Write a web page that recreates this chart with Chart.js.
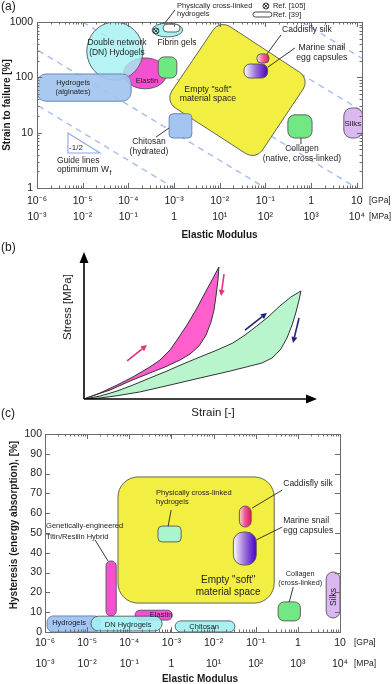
<!DOCTYPE html>
<html><head><meta charset="utf-8">
<script src="https://cdn.jsdelivr.net/npm/chart.js@4.4.1/dist/chart.umd.min.js"></script>
<style>
html,body{margin:0;padding:0;background:#fff;}
body{width:392px;height:684px;position:relative;overflow:hidden;}
.panel{position:absolute;left:0;width:392px;}
</style></head><body>
<div class="panel" style="top:0;height:242px"><canvas id="chartA"></canvas></div>
<div class="panel" style="top:242px;height:178px"><canvas id="chartB"></canvas></div>
<div class="panel" style="top:420px;height:264px"><canvas id="chartC"></canvas></div>
<script>
// ================= DATA =================
// shared modulus axis (GPa) and its tick labels
const modulusTicks = [1e-6, 1e-5, 1e-4, 1e-3, 1e-2, 1e-1, 1, 10];
const modulusLabelsGPa = ['10⁻⁶','10⁻⁵','10⁻⁴','10⁻³','10⁻²','10⁻¹','1','10'];
const modulusLabelsMPa = ['10⁻³','10⁻²','10⁻¹','1','10¹','10²','10³','10⁴'];
const strainTicks = [1, 10, 100, 1000];
const hysteresisTicks = [0, 10, 20, 30, 40, 50, 60, 70, 80, 90, 100];

// ---- panel (a): strain to failure [%] vs elastic modulus [GPa]
const materialsA = ['Elastin','DN Hydrogels','Hydrogels (alginates)','Fibrin gels','Physically cross-linked hydrogels','Ref. [39] hydrogel','Chitosan (hydrated)','Caddisfly silk','Marine snail egg capsules','Collagen (native, cross-linked)','Silks'];
const modulusMinA = [7.9e-5, 1.23e-5, 1.0e-6, 4.5e-4, 3.3e-4, 5.75e-4, 7.8e-4, 0.065, 0.034, 0.31, 5.2];
const modulusMaxA = [6.9e-4, 2.09e-4, 1.15e-4, 1.15e-3, 1.55e-3, 1.35e-3, 2.45e-3, 0.12, 0.112, 1.05, 13.5];
const strainMinA  = [62, 89, 37, 97, 537, 660, 8, 182, 97, 8, 8];
const strainMaxA  = [224, 1000, 115, 234, 955, 912, 22, 265, 174, 21, 28];
// "Empty soft material space" corner points (GPa, %)
const softSpaceModulusA = [0.0101, 0.94, 0.0617, 6.3e-4];
const softSpaceStrainA  = [1087, 93.5, 3.2, 37];
// slope -1/2 guide lines: [modulus0, strain0, modulus1, strain1]
const guideLinesA = [
  [1e-7, 100, 1e-3, 1],
  [1e-7, 1000, 0.1, 1],
  [1e-5, 1000, 10, 1],
  [7.94e-3, 1000, 100, 8.91],
  [0.631, 1000, 100, 79.4]
];
const refMarkerA = [4.0e-4, 690]; // Ref. [105] point

// ---- panel (b): schematic stress-strain loops (normalised strain, stress)
const pinkLoadStrain   = [0, 0.069, 0.142, 0.210, 0.283, 0.326, 0.369, 0.399, 0.442, 0.485, 0.519, 0.554, 0.579];
const pinkLoadStress   = [0, 0.041, 0.095, 0.150, 0.218, 0.265, 0.333, 0.401, 0.503, 0.619, 0.721, 0.823, 0.898];
const pinkUnloadStrain = [0.575, 0.567, 0.558, 0.545, 0.524, 0.494, 0.455, 0.412, 0.348, 0.283, 0.197, 0.112, 0.047, 0];
const pinkUnloadStress = [0.810, 0.707, 0.605, 0.524, 0.435, 0.361, 0.306, 0.265, 0.218, 0.177, 0.122, 0.061, 0.027, 0];
const greenLoadStrain   = [0, 0.069, 0.142, 0.210, 0.283, 0.356, 0.425, 0.498, 0.571, 0.639, 0.691, 0.742, 0.790, 0.841, 0.888, 0.931];
const greenLoadStress   = [0, 0.020, 0.054, 0.095, 0.143, 0.190, 0.238, 0.286, 0.333, 0.381, 0.435, 0.497, 0.558, 0.633, 0.694, 0.735];
const greenUnloadStrain = [0.923, 0.910, 0.893, 0.871, 0.845, 0.807, 0.764, 0.712, 0.627, 0.498, 0.369, 0.240, 0.133, 0.069, 0];
const greenUnloadStress = [0.673, 0.592, 0.503, 0.415, 0.340, 0.279, 0.245, 0.224, 0.190, 0.143, 0.095, 0.048, 0.020, 0.007, 0];
// direction arrows: [strain0, stress0, strain1, stress1]
const loopArrows = [
  [0.185, 0.259, 0.270, 0.367],
  [0.601, 0.850, 0.588, 0.701],
  [0.691, 0.469, 0.785, 0.585],
  [0.923, 0.551, 0.897, 0.381]
];

// ---- panel (c): hysteresis [%] vs elastic modulus [GPa]
const materialsC = ['Physically cross-linked hydrogels','Caddisfly silk','Marine snail egg capsules','Titin/Resilin hybrid','Hydrogels','Elastin','DN Hydrogels','Chitosan','Collagen (cross-linked)','Silks'];
const modulusMinC = [4.8e-4, 0.041, 0.0295, 2.8e-5, 1.12e-6, 1.37e-4, 1.23e-5, 1.23e-3, 0.34, 4.7];
const modulusMaxC = [1.7e-3, 0.078, 0.103, 4.9e-5, 2.04e-5, 1.05e-3, 6.0e-4, 0.032, 1.15, 10];
const hysteresisMinC = [45.5, 53, 33.8, 8.1, 0, 6, 0.5, 0, 5.6, 7.1];
const hysteresisMaxC = [53.5, 63.6, 50.5, 35.9, 8.1, 11, 8, 5.6, 15.2, 30.3];
const softSpaceC = [5.4e-5, 0.275, 14.6, 78.3]; // modulus min/max, hysteresis min/max

// ================= STYLES / ANNOTATIONS =================
const FONT = '"Liberation Sans", Arial, Helvetica, sans-serif';
Chart.defaults.font.family = FONT;
Chart.defaults.color = '#222';
const YELLOW = '#f3ef42';
const MAGENTA = '#f450d2';

const styleA = {
  'Elastin': {shape:'ellipse', fill:MAGENTA},
  'DN Hydrogels': {shape:'ellipse', fill:'rgba(164,240,242,0.8)'},
  'Hydrogels (alginates)': {shape:'rect', r:9, fill:'rgba(162,196,240,0.92)', stroke:'#5f7fae'},
  'Fibrin gels': {shape:'rect', r:6, fill:'#70e880'},
  'Physically cross-linked hydrogels': {shape:'ellipse', fill:'#a8f2f2'},
  'Ref. [39] hydrogel': {shape:'rect', r:4, fill:'#ffffff'},
  'Chitosan (hydrated)': {shape:'rect', r:4, fill:'#a4c4f2', stroke:'#5f7fae'},
  'Caddisfly silk': {shape:'rect', r:4, grad:['#f3ecc8','#f264a8','#e0204e']},
  'Marine snail egg capsules': {shape:'rect', r:6, grad:['#ffffff','#9870d8','#4800c0']},
  'Collagen (native, cross-linked)': {shape:'rect', r:7, fill:'#72e884'},
  'Silks': {shape:'rect', r:8, fill:'#dcb8f2'}
};
const styleC = {
  'Physically cross-linked hydrogels': {r:4, fill:'#aaf5cc'},
  'Caddisfly silk': {r:6, grad:['#eee0b8','#f050a0','#e01850']},
  'Marine snail egg capsules': {r:10, grad:['#ffffff','#9a70d8','#4800c8']},
  'Titin/Resilin hybrid': {r:5, fill:MAGENTA},
  'Hydrogels': {r:6, fill:'#a4c4f2', stroke:'#5f7fae'},
  'Elastin': {r:5, fill:MAGENTA},
  'DN Hydrogels': {r:8, fill:'rgba(160,240,244,0.9)'},
  'Chitosan': {r:6, fill:'#a8f0f2'},
  'Collagen (cross-linked)': {r:6, fill:'#72e884'},
  'Silks': {r:7, fill:'#dcb8f2'}
};

const labelsA = [
  {lines:[['Physically cross-linked',1945],['hydrogels',1400]], x:1.16e-3, align:'left', size:7.5},
  {lines:[['Ref. [105]',1945]], x:0.146, align:'left', size:7.5},
  {lines:[['Ref. [39]',1339]], x:0.146, align:'left', size:7.5},
  {lines:[['Double network',417],['(DN) Hydogels',275]], x:5.64e-5, size:8.5},
  {lines:[['Fibrin gels',417]], x:1.16e-3, size:8.5},
  {lines:[['Elastin',85.7]], x:2.55e-4, size:7.5},
  {lines:[['Hydrogels',78.9],['(alginates)',54.2]], x:6.14e-6, size:7.5},
  {lines:[['Empty "soft"',58.9],['material space',40.5]], x:5.52e-3, size:8.7},
  {lines:[['Caddisfly silk',716]], x:0.809, size:8.5},
  {lines:[['Marine snail',339],['egg capsules',223]], x:1.72, size:8.7},
  {lines:[['Chitosan',6.76],['(hydrated)',4.46]], x:2.82e-4, size:8.5},
  {lines:[['Collagen',5.05],['(native, cross-linked)',3.33]], x:0.63, size:8.5},
  {lines:[['Silks',14.3]], x:8.22, size:8},
  {lines:[['-1/2',5.26]], x:7.13e-6, size:8},
  {lines:[['Guide lines',3.06],['optimimum W',2.11]], x:2.74e-6, align:'left', size:8.5, sub:'f'}
];
const leadersA = [
  [1.05e-3, 1648, 6.3e-4, 959],
  [0.218, 582, 0.108, 264],
  [0.443, 339, 0.1135, 153],
  [4.02e-4, 8.32, 7.73e-4, 12.1],
  [0.60, 7.98, 0.60, 6.22]
];
const triangleA = [[4.76e-6, 9.85], [4.76e-6, 4.28], [2.39e-5, 4.28]];
const legendPillA = [0.0533, 0.1387, 1231, 1517];
const legendMarkA = [0.1026, 1945];

const labelsC = [
  {lines:[['Physically cross-linked',70.2],['hydrogels',65.7]], x:4.33e-4, align:'left', size:7.5},
  {lines:[['Caddisfly silk',74.7]], x:0.45, align:'left', size:8.5},
  {lines:[['Marine snail',56.1],['egg capsules',51.0]], x:0.45, align:'left', size:8.5},
  {lines:[['Genetically-engineered',53.5],['Titin/Resilin Hybrid',48.0]], x:1.06e-6, align:'left', size:7.5},
  {lines:[['Empty "soft"',26.3],['material space',20.2]], x:0.0222, size:10},
  {lines:[['Collagen',29.3],['(cross-linked)',24.7]], x:1.14, size:7.3},
  {lines:[['Silks',17.7]], x:6.93, size:8.5, rot:-Math.PI/2},
  {lines:[['Hydrogels',4.55]], x:3.72e-6, size:7.5},
  {lines:[['DN Hydrogels',3.5]], x:9.38e-5, size:7.5},
  {lines:[['Elastin',8.6]], x:5.69e-4, size:7.5},
  {lines:[['Chitosan',2.5]], x:5.98e-3, size:7.5}
];
const leadersC = [
  [9.84e-4, 61.6, 8.35e-4, 53.5],
  [0.426, 71.7, 0.0826, 62.6],
  [0.426, 53.0, 0.1028, 46.5],
  [1.54e-5, 46.5, 3.13e-5, 35.9],
  [0.778, 22.7, 0.625, 15.2]
];

// ================= HELPERS =================
function P(chart, x, y){ return {x: chart.scales.x.getPixelForValue(x), y: chart.scales.y.getPixelForValue(y)}; }
function roundRectPath(ctx, l, t, r, b, rad){
  const w = r - l, h = b - t; rad = Math.max(0, Math.min(rad, w/2, h/2));
  ctx.beginPath();
  ctx.moveTo(l + rad, t); ctx.lineTo(r - rad, t); ctx.arcTo(r, t, r, t + rad, rad);
  ctx.lineTo(r, b - rad); ctx.arcTo(r, b, r - rad, b, rad);
  ctx.lineTo(l + rad, b); ctx.arcTo(l, b, l, b - rad, rad);
  ctx.lineTo(l, t + rad); ctx.arcTo(l, t, l + rad, t, rad);
  ctx.closePath();
}
function roundPolyPath(ctx, pts, rad){
  const n = pts.length;
  ctx.beginPath();
  ctx.moveTo((pts[n-1].x + pts[0].x)/2, (pts[n-1].y + pts[0].y)/2);
  for (let i = 0; i < n; i++){ const a = pts[i], b = pts[(i+1)%n]; ctx.arcTo(a.x, a.y, b.x, b.y, rad); }
  ctx.closePath();
}
function drawRegion(chart, st, x0, x1, y0, y1){
  const ctx = chart.ctx;
  const p0 = P(chart, x0, y1), p1 = P(chart, x1, y0);
  const l = p0.x, t = p0.y, r = p1.x, b = p1.y;
  if (st.shape === 'ellipse'){ ctx.beginPath(); ctx.ellipse((l+r)/2, (t+b)/2, (r-l)/2, (b-t)/2, 0, 0, Math.PI*2); }
  else roundRectPath(ctx, l, t, r, b, st.r || 5);
  let fill = st.fill;
  if (st.grad){ const g = ctx.createLinearGradient(l, 0, r, 0); st.grad.forEach((c,i) => g.addColorStop(i/(st.grad.length-1), c)); fill = g; }
  ctx.fillStyle = fill; ctx.fill();
  ctx.lineWidth = 0.9; ctx.strokeStyle = st.stroke || '#555'; ctx.stroke();
}
function logTickMarks(min, max){
  const out = [];
  for (let e = Math.floor(Math.log10(min)); e <= Math.ceil(Math.log10(max)); e++){
    for (let k = 1; k < 10; k++){ const v = k*Math.pow(10, e); if (v >= min*0.999 && v <= max*1.001) out.push([v, k === 1]); }
  }
  return out;
}
function drawFrame(chart, yLog, yVals){
  const {ctx, chartArea:a} = chart; const sx = chart.scales.x, sy = chart.scales.y;
  ctx.save(); ctx.strokeStyle = '#6a6a6a'; ctx.lineWidth = 1;
  ctx.beginPath();
  logTickMarks(sx.min, sx.max).forEach(([v, maj]) => {
    const p = Math.round(sx.getPixelForValue(v)) + 0.5, L = maj ? 5 : 2.5;
    ctx.moveTo(p, a.bottom); ctx.lineTo(p, a.bottom - L); ctx.moveTo(p, a.top); ctx.lineTo(p, a.top + L);
  });
  const ys = yLog ? logTickMarks(sy.min, sy.max) : yVals.map(v => [v, true]);
  ys.forEach(([v, maj]) => {
    const p = Math.round(sy.getPixelForValue(v)) + 0.5, L = maj ? 5 : 2.5;
    ctx.moveTo(a.left, p); ctx.lineTo(a.left + L, p); ctx.moveTo(a.right, p); ctx.lineTo(a.right - L, p);
  });
  ctx.stroke();
  ctx.strokeRect(Math.round(a.left) + 0.5, Math.round(a.top) + 0.5, Math.round(a.right - a.left), Math.round(a.bottom - a.top));
  ctx.restore();
}
function drawLabels(chart, labels){
  const ctx = chart.ctx;
  labels.forEach(lb => {
    ctx.save();
    ctx.font = (lb.bold ? 'bold ' : '') + lb.size + 'px ' + FONT;
    ctx.fillStyle = lb.color || '#1e1e1e';
    ctx.textAlign = lb.align || 'center'; ctx.textBaseline = 'middle';
    lb.lines.forEach(([txt, yv], k) => {
      const p = P(chart, lb.x, yv);
      if (lb.rot){ ctx.save(); ctx.translate(p.x, p.y); ctx.rotate(lb.rot); ctx.fillText(txt, 0, 0); ctx.restore(); }
      else ctx.fillText(txt, p.x, p.y);
      if (lb.sub && k === lb.lines.length - 1){
        const w = ctx.measureText(txt).width;
        ctx.save(); ctx.font = (lb.size*0.8) + 'px ' + FONT; ctx.textAlign = 'left';
        ctx.fillText(lb.sub, p.x + w + 0.5, p.y + 3); ctx.restore();
      }
    });
    ctx.restore();
  });
}
function drawLeaders(chart, leaders){
  const ctx = chart.ctx; ctx.save(); ctx.strokeStyle = '#222'; ctx.lineWidth = 0.9;
  leaders.forEach(s => { const a = P(chart, s[0], s[1]), b = P(chart, s[2], s[3]); ctx.beginPath(); ctx.moveTo(a.x, a.y); ctx.lineTo(b.x, b.y); ctx.stroke(); });
  ctx.restore();
}
function text(ctx, t, x, y, font, align, rot){
  ctx.save(); ctx.font = font; ctx.fillStyle = '#1a1a1a'; ctx.textAlign = align || 'left'; ctx.textBaseline = 'middle';
  if (rot){ ctx.translate(x, y); ctx.rotate(rot); ctx.fillText(t, 0, 0); } else ctx.fillText(t, x, y);
  ctx.restore();
}
function arrow(ctx, x0, y0, x1, y1, col, lw, hl, hw){
  const ang = Math.atan2(y1 - y0, x1 - x0);
  const bx = x1 - hl*Math.cos(ang), by = y1 - hl*Math.sin(ang);
  ctx.save(); ctx.strokeStyle = col; ctx.fillStyle = col; ctx.lineWidth = lw;
  ctx.beginPath(); ctx.moveTo(x0, y0); ctx.lineTo(bx, by); ctx.stroke();
  ctx.beginPath(); ctx.moveTo(x1, y1);
  ctx.lineTo(bx + hw*Math.sin(ang), by - hw*Math.cos(ang));
  ctx.lineTo(bx - hw*Math.sin(ang), by + hw*Math.cos(ang));
  ctx.closePath(); ctx.fill(); ctx.restore();
}
function modulusAxis(min, max, height, pad, lh){
  return {
    type:'logarithmic', min:min, max:max,
    grid:{display:false, drawTicks:false}, border:{display:false},
    afterBuildTicks: s => { s.ticks = modulusTicks.map(v => ({value:v})); },
    afterFit: s => { s.height = height; },
    ticks:{autoSkip:false, maxRotation:0, minRotation:0, padding:pad, color:'#222',
      font:{size:10.5, lineHeight:lh},
      callback:(v, i) => [modulusLabelsGPa[i], modulusLabelsMPa[i]]}
  };
}

// ================= PANEL (a) =================
const pluginA = {
  id:'panelA',
  afterDatasetsDraw(chart){
    const ctx = chart.ctx, a = chart.chartArea;
    ctx.save(); ctx.beginPath(); ctx.rect(a.left, a.top, a.right - a.left, a.bottom - a.top); ctx.clip();
    const pts = softSpaceModulusA.map((m, i) => P(chart, m, softSpaceStrainA[i]));
    roundPolyPath(ctx, pts, 12); ctx.fillStyle = YELLOW; ctx.fill(); ctx.lineWidth = 0.9; ctx.strokeStyle = '#555'; ctx.stroke();
    materialsA.forEach((n, i) => drawRegion(chart, styleA[n], modulusMinA[i], modulusMaxA[i], strainMinA[i], strainMaxA[i]));
    ctx.restore();
  },
  afterDraw(chart){
    const ctx = chart.ctx, a = chart.chartArea;
    drawFrame(chart, true);
    // ref markers
    [refMarkerA, legendMarkA].forEach(m => {
      const p = P(chart, m[0], m[1]);
      ctx.save(); ctx.strokeStyle = '#222'; ctx.lineWidth = 0.9; ctx.beginPath(); ctx.arc(p.x, p.y, 3, 0, Math.PI*2); ctx.stroke();
      ctx.beginPath(); ctx.moveTo(p.x-2, p.y-2); ctx.lineTo(p.x+2, p.y+2); ctx.moveTo(p.x+2, p.y-2); ctx.lineTo(p.x-2, p.y+2); ctx.stroke(); ctx.restore();
    });
    drawRegion(chart, {shape:'rect', r:3, fill:'#fff', stroke:'#333'}, legendPillA[0], legendPillA[1], legendPillA[2], legendPillA[3]);
    // guide triangle
    ctx.save(); ctx.strokeStyle = '#8aa6ee'; ctx.lineWidth = 1.1; ctx.beginPath();
    triangleA.forEach((t, i) => { const p = P(chart, t[0], t[1]); i ? ctx.lineTo(p.x, p.y) : ctx.moveTo(p.x, p.y); });
    ctx.closePath(); ctx.stroke(); ctx.restore();
    drawLeaders(chart, leadersA);
    drawLabels(chart, labelsA);
    text(ctx, '(a)', 1, 7, '12px ' + FONT);
    text(ctx, 'Elastic Modulus', (a.left + a.right)/2 + 20, 235, 'bold 10px ' + FONT, 'center');
    text(ctx, 'Strain to failure [%]', 7, (a.top + a.bottom)/2, 'bold 10px ' + FONT, 'center', -Math.PI/2);
    text(ctx, '[GPa]', a.right + 7, a.bottom + 13, '8.5px ' + FONT);
    text(ctx, '[MPa]', a.right + 7, a.bottom + 29, '8.5px ' + FONT);
  }
};
new Chart(document.getElementById('chartA'), {
  type:'scatter',
  data:{datasets: guideLinesA.map((g, i) => ({
    label:'guide ' + (i+1), data:[{x:g[0], y:g[1]}, {x:g[2], y:g[3]}], showLine:true,
    borderColor:'#a8bcf2', borderWidth:1.4, borderDash:[6, 5], pointRadius:0, fill:false }))},
  options:{
    responsive:true, maintainAspectRatio:false, animation:false,
    layout:{padding:{left:0, right:30, top:22, bottom:0}},
    plugins:{legend:{display:false}, tooltip:{enabled:false}},
    scales:{
      x: modulusAxis(1e-6, 13, 54, 5, 1.55),
      y:{type:'logarithmic', min:1, max:1000, grid:{display:false, drawTicks:false}, border:{display:false},
        afterBuildTicks: s => { s.ticks = strainTicks.map(v => ({value:v})); },
        afterFit: s => { s.width = 37; },
        ticks:{padding:4, color:'#222', font:{size:10.5}, callback:(v, i) => String(strainTicks[i])}}
    }
  },
  plugins:[pluginA]
});

// ================= PANEL (b) =================
function loopPoints(ls, lt, us, ut){
  const pts = ls.map((s, i) => ({x:s, y:lt[i]}));
  return pts.concat(us.map((s, i) => ({x:s, y:ut[i]})));
}
const arrowColors = ['#e3307a', '#e3307a', '#22227c', '#22227c'];
const pluginB = {
  id:'panelB',
  afterDraw(chart){
    const ctx = chart.ctx;
    const o = P(chart, 0, 0), xe = P(chart, 1, 0), ye = P(chart, 0, 1);
    arrow(ctx, o.x, o.y, xe.x, xe.y, '#000', 1.6, 11, 4.5);
    arrow(ctx, o.x, o.y, ye.x, ye.y, '#000', 1.6, 11, 4.5);
    loopArrows.forEach((r, i) => { const p0 = P(chart, r[0], r[1]), p1 = P(chart, r[2], r[3]); arrow(ctx, p0.x, p0.y, p1.x, p1.y, arrowColors[i], 1.6, 6, 3); });
    const sl = P(chart, -0.069, 0.626), xl = P(chart, 0.554, -0.095);
    text(ctx, 'Stress [MPa]', sl.x, sl.y, '11.5px ' + FONT, 'center', -Math.PI/2);
    text(ctx, 'Strain [-]', xl.x, xl.y, '11.5px ' + FONT, 'center');
    text(ctx, '(b)', 1, 6, '12px ' + FONT);
    text(ctx, '(c)', 1, 172, '12px ' + FONT);
  }
};
new Chart(document.getElementById('chartB'), {
  type:'scatter',
  data:{datasets:[
    {label:'Loop 1', data: loopPoints(pinkLoadStrain, pinkLoadStress, pinkUnloadStrain, pinkUnloadStress),
      showLine:true, fill:'shape', backgroundColor:'#ff5fcd', borderColor:'#333', borderWidth:1, pointRadius:0, tension:0},
    {label:'Loop 2', data: loopPoints(greenLoadStrain, greenLoadStress, greenUnloadStrain, greenUnloadStress),
      showLine:true, fill:'shape', backgroundColor:'#b8f5cc', borderColor:'#333', borderWidth:1, pointRadius:0, tension:0}
  ]},
  options:{
    responsive:true, maintainAspectRatio:false, animation:false,
    layout:{padding:{left:84, right:75, top:10, bottom:21}},
    plugins:{legend:{display:false}, tooltip:{enabled:false}},
    scales:{x:{type:'linear', min:0, max:1, display:false}, y:{type:'linear', min:0, max:1, display:false}}
  },
  plugins:[pluginB]
});

// ================= PANEL (c) =================
const pluginC = {
  id:'panelC',
  afterDatasetsDraw(chart){
    const ctx = chart.ctx;
    drawRegion(chart, {shape:'rect', r:20, fill:YELLOW}, softSpaceC[0], softSpaceC[1], softSpaceC[2], softSpaceC[3]);
    materialsC.forEach((n, i) => drawRegion(chart, Object.assign({shape:'rect'}, styleC[n]), modulusMinC[i], modulusMaxC[i], hysteresisMinC[i], hysteresisMaxC[i]));
  },
  afterDraw(chart){
    const ctx = chart.ctx, a = chart.chartArea;
    drawFrame(chart, false, hysteresisTicks);
    drawLeaders(chart, leadersC);
    drawLabels(chart, labelsC);
    text(ctx, 'Elastic Modulus', 200, 259, 'bold 10px ' + FONT, 'center');
    text(ctx, 'Hysteresis (energy absorption), [%]', 14, 105, 'bold 10px ' + FONT, 'center', -Math.PI/2);
    text(ctx, '[GPa]', a.right + 14, a.bottom + 11, '8.5px ' + FONT);
    text(ctx, '[MPa]', a.right + 14, a.bottom + 32, '8.5px ' + FONT);
  }
};
new Chart(document.getElementById('chartC'), {
  type:'scatter',
  data:{datasets:[{label:'none', data:[], pointRadius:0}]},
  options:{
    responsive:true, maintainAspectRatio:false, animation:false,
    layout:{padding:{left:0, right:52, top:14, bottom:0}},
    plugins:{legend:{display:false}, tooltip:{enabled:false}},
    scales:{
      x: modulusAxis(1e-6, 10, 52, 1, 2.0),
      y:{type:'linear', min:0, max:100, grid:{display:false, drawTicks:false}, border:{display:false},
        afterBuildTicks: s => { s.ticks = hysteresisTicks.map(v => ({value:v})); },
        afterFit: s => { s.width = 45; },
        ticks:{padding:3, color:'#222', font:{size:10.5}, callback:(v, i) => String(hysteresisTicks[i])}}
    }
  },
  plugins:[pluginC]
});
</script>
</body></html>
